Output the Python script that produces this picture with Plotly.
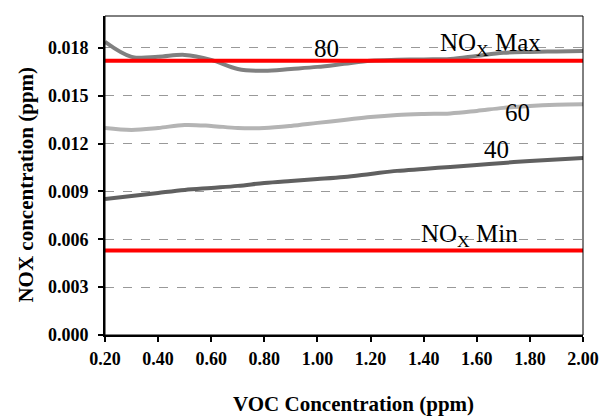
import plotly.graph_objects as go

voc = [0.2, 0.3, 0.4, 0.5, 0.6, 0.7, 0.8, 0.9, 1.0, 1.1, 1.2, 1.3, 1.4, 1.5, 1.6, 1.7, 1.8, 1.9, 2.0]
nox_80 = [0.01838, 0.01744, 0.01744, 0.01756, 0.01725, 0.01668, 0.01656, 0.01668, 0.01681, 0.01700,
          0.01719, 0.01725, 0.01728, 0.01731, 0.01750, 0.01769, 0.01775, 0.01778, 0.01781]
nox_60 = [0.01298, 0.01286, 0.01298, 0.01317, 0.01311, 0.01298, 0.01298, 0.01311, 0.01330, 0.01348,
          0.01367, 0.01380, 0.01386, 0.01389, 0.01405, 0.01424, 0.01436, 0.01443, 0.01446]
nox_40 = [0.00853, 0.00872, 0.00891, 0.00909, 0.00922, 0.00935, 0.00953, 0.00966, 0.00978, 0.00991,
          0.01010, 0.01029, 0.01041, 0.01054, 0.01066, 0.01079, 0.01091, 0.01101, 0.01110]
nox_max = 0.0172
nox_min = 0.0053
x_ticks = [0.2, 0.4, 0.6, 0.8, 1.0, 1.2, 1.4, 1.6, 1.8, 2.0]
y_ticks = [0.000, 0.003, 0.006, 0.009, 0.012, 0.015, 0.018]

FONT = "Liberation Serif"

fig = go.Figure()
for ys, col in [(nox_80, "#808080"), (nox_60, "#b4b4b4"), (nox_40, "#606060")]:
    fig.add_trace(go.Scatter(x=voc, y=ys, mode="lines",
                             line=dict(color=col, width=4, shape="spline", smoothing=1.0),
                             showlegend=False, hoverinfo="skip"))
for v in [nox_max, nox_min]:
    fig.add_trace(go.Scatter(x=[voc[0], voc[-1]], y=[v, v], mode="lines",
                             line=dict(color="#ff0000", width=4),
                             showlegend=False, hoverinfo="skip", cliponaxis=False))

ann_font = dict(family=FONT, size=25, color="#000000")
labels = [
    (1.035, 0.01795, "80"),
    (1.651, 0.01822, "NO<sub>X</sub> Max"),
    (1.755, 0.01392, "60"),
    (1.676, 0.01165, "40"),
    (1.574, 0.00625, "NO<sub>X</sub> Min"),
]
for x, y, t in labels:
    fig.add_annotation(x=x, y=y, text=t, showarrow=False, font=ann_font,
                       xanchor="center", yanchor="middle")

# axis titles
fig.add_annotation(xref="paper", yref="paper", x=0.52, y=-0.217, text="<b>VOC Concentration (ppm)</b>",
                   showarrow=False, font=dict(family=FONT, size=21, color="#000000"),
                   xanchor="center", yanchor="middle")
fig.add_annotation(xref="paper", yref="paper", x=-0.165, y=0.472, text="<b>NOX concentration (ppm)</b>",
                   showarrow=False, textangle=-90, font=dict(family=FONT, size=21, color="#000000"),
                   xanchor="center", yanchor="middle")

fig.add_shape(type="rect", xref="paper", yref="paper", x0=0, y0=0, x1=1, y1=1,
              line=dict(color="#000000", width=1), layer="above")

fig.update_layout(
    width=600, height=416,
    margin=dict(l=105, r=17, t=16, b=81),
    paper_bgcolor="white", plot_bgcolor="white",
    font=dict(family=FONT, color="#000000"),
    xaxis=dict(range=[0.2, 2.0], tickvals=x_ticks, tickformat=".2f", automargin=False,
               showgrid=False, zeroline=False,
               showline=True, linecolor="#000000", linewidth=2,
               ticks="outside", ticklen=5, tickwidth=1.5, tickcolor="#000000",
               ticklabelstandoff=1,
               tickfont=dict(family=FONT, size=18, color="#000000", weight="bold")),
    yaxis=dict(range=[0, 0.020], tickvals=y_ticks, tickformat=".3f", automargin=False,
               showgrid=True, gridcolor="#999999", griddash="dash", gridwidth=1,
               zeroline=False,
               showline=True, linecolor="#000000", linewidth=2,
               ticks="outside", ticklen=5, tickwidth=1.5, tickcolor="#000000",
               ticklabelstandoff=6,
               tickfont=dict(family=FONT, size=18, color="#000000", weight="bold")),
)

fig.write_html("out.html", config={"displayModeBar": False},
               post_script="document.body.style.margin='0';")
